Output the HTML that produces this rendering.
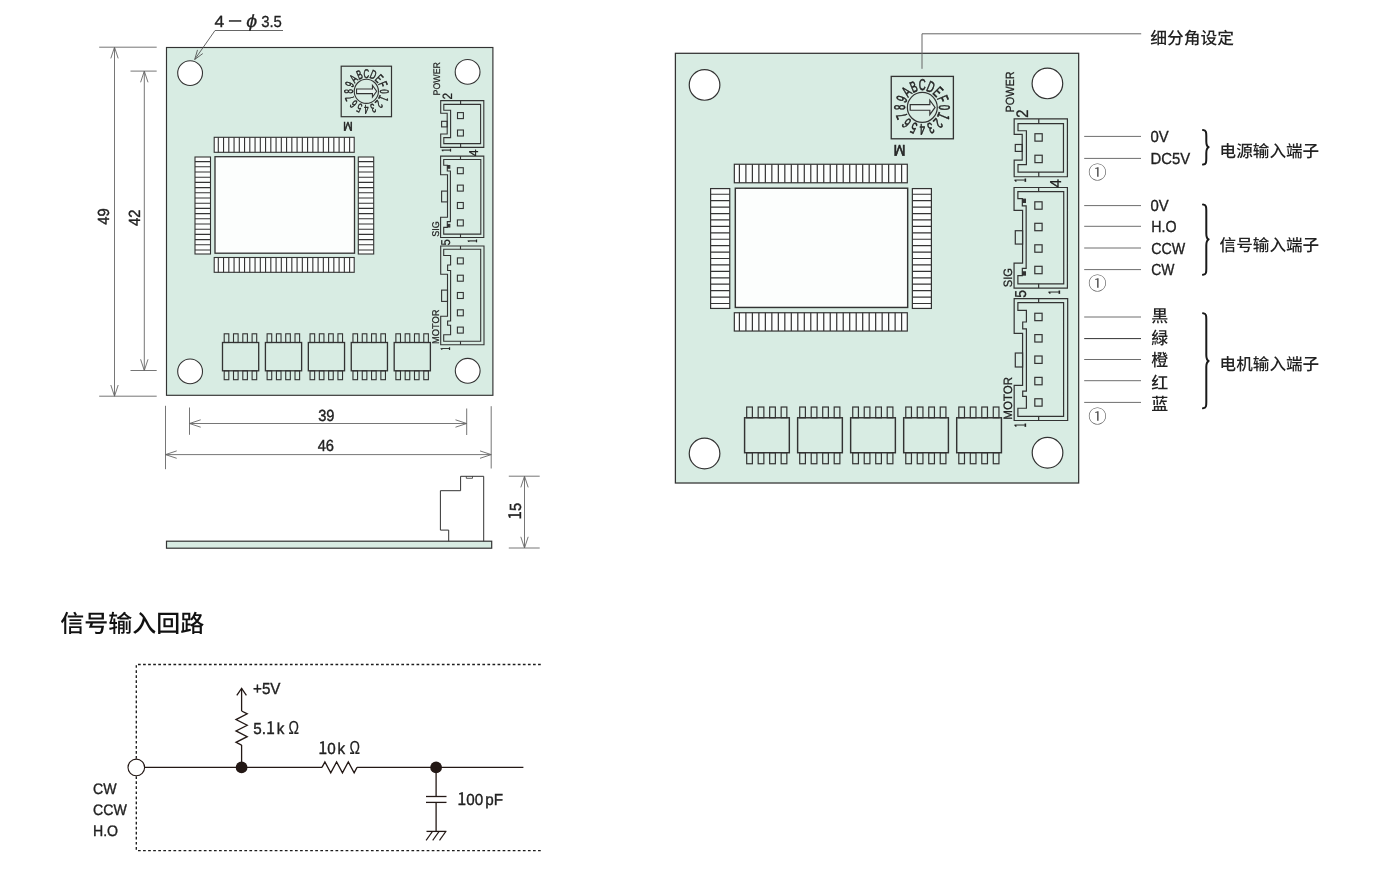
<!DOCTYPE html>
<html lang="zh-CN">
<head>
<meta charset="utf-8">
<title>外形图 / 信号输入回路</title>
<style>
html,body{margin:0;padding:0;background:#fff;}
body{width:1386px;height:871px;overflow:hidden;}
svg{display:block;will-change:transform;}
svg text{font-family:'Liberation Sans', 'Noto Sans CJK SC', sans-serif;text-rendering:geometricPrecision;}
</style>
</head>
<body>
<svg width="1386" height="871" viewBox="0 0 1386 871">
<rect x="0" y="0" width="1386" height="871" fill="#fff"/>
<rect x="166.5" y="47.5" width="326.4" height="347.8" fill="#d8ece3" stroke="#333" stroke-width="1.16"/>
<circle cx="190.1" cy="73.1" r="12.4" fill="#fff" stroke="#333" stroke-width="1.1"/>
<circle cx="467.6" cy="71.9" r="12.4" fill="#fff" stroke="#333" stroke-width="1.1"/>
<circle cx="190.1" cy="371.4" r="12.4" fill="#fff" stroke="#333" stroke-width="1.1"/>
<circle cx="467.7" cy="370.8" r="12.4" fill="#fff" stroke="#333" stroke-width="1.1"/>
<rect x="341.2" y="66.2" width="50.3" height="50.5" fill="none" stroke="#333" stroke-width="1.21"/>
<circle cx="366.35" cy="91.3" r="12.1" fill="none" stroke="#333" stroke-width="1.1"/>
<text transform="translate(380.05,91.3) rotate(90) scale(0.62,1)" font-size="12.6" text-anchor="middle" font-weight="normal" fill="#222" stroke="#222" stroke-width="0.45">0</text>
<text transform="translate(379.01,96.54) rotate(112.5) scale(0.7,1)" font-size="13.2" text-anchor="middle" font-weight="normal" fill="#222" stroke="#222" stroke-width="0.4" style="font-family:'Noto Sans CJK SC','Liberation Sans',sans-serif">1</text>
<text transform="translate(376.04,100.99) rotate(135) scale(0.62,1)" font-size="12.6" text-anchor="middle" font-weight="normal" fill="#222" stroke="#222" stroke-width="0.45">2</text>
<text transform="translate(371.59,103.96) rotate(157.5) scale(0.62,1)" font-size="12.6" text-anchor="middle" font-weight="normal" fill="#222" stroke="#222" stroke-width="0.45">3</text>
<text transform="translate(366.35,105) rotate(180) scale(0.62,1)" font-size="12.6" text-anchor="middle" font-weight="normal" fill="#222" stroke="#222" stroke-width="0.45">4</text>
<text transform="translate(361.11,103.96) rotate(202.5) scale(0.62,1)" font-size="12.6" text-anchor="middle" font-weight="normal" fill="#222" stroke="#222" stroke-width="0.45">5</text>
<text transform="translate(356.66,100.99) rotate(225) scale(0.62,1)" font-size="12.6" text-anchor="middle" font-weight="normal" fill="#222" stroke="#222" stroke-width="0.45">6</text>
<text transform="translate(353.69,96.54) rotate(247.5) scale(0.62,1)" font-size="12.6" text-anchor="middle" font-weight="normal" fill="#222" stroke="#222" stroke-width="0.45">7</text>
<text transform="translate(352.65,91.3) rotate(270) scale(0.62,1)" font-size="12.6" text-anchor="middle" font-weight="normal" fill="#222" stroke="#222" stroke-width="0.45">8</text>
<text transform="translate(353.69,86.06) rotate(292.5) scale(0.62,1)" font-size="12.6" text-anchor="middle" font-weight="normal" fill="#222" stroke="#222" stroke-width="0.45">9</text>
<text transform="translate(356.66,81.61) rotate(315) scale(0.62,1)" font-size="12.6" text-anchor="middle" font-weight="normal" fill="#222" stroke="#222" stroke-width="0.45">A</text>
<text transform="translate(361.11,78.64) rotate(337.5) scale(0.62,1)" font-size="12.6" text-anchor="middle" font-weight="normal" fill="#222" stroke="#222" stroke-width="0.45">B</text>
<text transform="translate(366.35,77.6) rotate(360) scale(0.62,1)" font-size="12.6" text-anchor="middle" font-weight="normal" fill="#222" stroke="#222" stroke-width="0.45">C</text>
<text transform="translate(371.59,78.64) rotate(382.5) scale(0.62,1)" font-size="12.6" text-anchor="middle" font-weight="normal" fill="#222" stroke="#222" stroke-width="0.45">D</text>
<text transform="translate(376.04,81.61) rotate(405) scale(0.62,1)" font-size="12.6" text-anchor="middle" font-weight="normal" fill="#222" stroke="#222" stroke-width="0.45">E</text>
<text transform="translate(379.01,86.06) rotate(427.5) scale(0.62,1)" font-size="12.6" text-anchor="middle" font-weight="normal" fill="#222" stroke="#222" stroke-width="0.45">F</text>
<path d="M356.55,89 L372.45,89 L372.45,85.5 L376.65,91.3 L372.45,97.1 L372.45,93.6 L356.55,93.6 Z" fill="#e6f3ee" stroke="#333" stroke-width="1.1"/>
<text transform="translate(347.9,121.9) rotate(180) scale(0.92,1)" font-size="12.6" text-anchor="middle" font-weight="normal" fill="#222" stroke="#222" stroke-width="0.5">M</text>
<rect x="215" y="156.7" width="139.5" height="96.5" fill="#fcfefd" stroke="#333" stroke-width="1.32"/>
<rect x="214.2" y="137.3" width="140" height="15" fill="#fcfefd" stroke="#333" stroke-width="1.1"/>
<path d="M218.3,137.3V152.3M223.55,137.3V152.3M228.8,137.3V152.3M234.06,137.3V152.3M239.31,137.3V152.3M244.56,137.3V152.3M249.81,137.3V152.3M255.06,137.3V152.3M260.32,137.3V152.3M265.57,137.3V152.3M270.82,137.3V152.3M276.07,137.3V152.3M281.32,137.3V152.3M286.58,137.3V152.3M291.83,137.3V152.3M297.08,137.3V152.3M302.33,137.3V152.3M307.58,137.3V152.3M312.84,137.3V152.3M318.09,137.3V152.3M323.34,137.3V152.3M328.59,137.3V152.3M333.84,137.3V152.3M339.1,137.3V152.3M344.35,137.3V152.3M349.6,137.3V152.3" fill="none" stroke="#333" stroke-width="1.1"/>
<rect x="214.2" y="257.5" width="140" height="14.8" fill="#fcfefd" stroke="#333" stroke-width="1.1"/>
<path d="M218.3,257.5V272.3M223.55,257.5V272.3M228.8,257.5V272.3M234.06,257.5V272.3M239.31,257.5V272.3M244.56,257.5V272.3M249.81,257.5V272.3M255.06,257.5V272.3M260.32,257.5V272.3M265.57,257.5V272.3M270.82,257.5V272.3M276.07,257.5V272.3M281.32,257.5V272.3M286.58,257.5V272.3M291.83,257.5V272.3M297.08,257.5V272.3M302.33,257.5V272.3M307.58,257.5V272.3M312.84,257.5V272.3M318.09,257.5V272.3M323.34,257.5V272.3M328.59,257.5V272.3M333.84,257.5V272.3M339.1,257.5V272.3M344.35,257.5V272.3M349.6,257.5V272.3" fill="none" stroke="#333" stroke-width="1.1"/>
<rect x="195" y="157" width="15.5" height="97" fill="#fcfefd" stroke="#333" stroke-width="1.1"/>
<path d="M195,161.6H210.5M195,166.8H210.5M195,172H210.5M195,177.2H210.5M195,182.4H210.5M195,187.6H210.5M195,192.8H210.5M195,198H210.5M195,203.2H210.5M195,208.4H210.5M195,213.6H210.5M195,218.8H210.5M195,224H210.5M195,229.2H210.5M195,234.4H210.5M195,239.6H210.5M195,244.8H210.5M195,250H210.5" fill="none" stroke="#333" stroke-width="1.1"/>
<rect x="358.3" y="157" width="15.4" height="97" fill="#fcfefd" stroke="#333" stroke-width="1.1"/>
<path d="M358.3,161.6H373.7M358.3,166.8H373.7M358.3,172H373.7M358.3,177.2H373.7M358.3,182.4H373.7M358.3,187.6H373.7M358.3,192.8H373.7M358.3,198H373.7M358.3,203.2H373.7M358.3,208.4H373.7M358.3,213.6H373.7M358.3,218.8H373.7M358.3,224H373.7M358.3,229.2H373.7M358.3,234.4H373.7M358.3,239.6H373.7M358.3,244.8H373.7M358.3,250H373.7" fill="none" stroke="#333" stroke-width="1.1"/>
<rect x="224.2" y="333.8" width="4.6" height="8.7" fill="none" stroke="#333" stroke-width="1.1"/>
<rect x="224.2" y="370.8" width="4.6" height="8.9" fill="none" stroke="#333" stroke-width="1.1"/>
<rect x="233.5" y="333.8" width="4.6" height="8.7" fill="none" stroke="#333" stroke-width="1.1"/>
<rect x="233.5" y="370.8" width="4.6" height="8.9" fill="none" stroke="#333" stroke-width="1.1"/>
<rect x="242.8" y="333.8" width="4.6" height="8.7" fill="none" stroke="#333" stroke-width="1.1"/>
<rect x="242.8" y="370.8" width="4.6" height="8.9" fill="none" stroke="#333" stroke-width="1.1"/>
<rect x="252.1" y="333.8" width="4.6" height="8.7" fill="none" stroke="#333" stroke-width="1.1"/>
<rect x="252.1" y="370.8" width="4.6" height="8.9" fill="none" stroke="#333" stroke-width="1.1"/>
<rect x="222.5" y="342.5" width="36.2" height="28.3" fill="none" stroke="#333" stroke-width="1.32"/>
<rect x="267.12" y="333.8" width="4.6" height="8.7" fill="none" stroke="#333" stroke-width="1.1"/>
<rect x="267.12" y="370.8" width="4.6" height="8.9" fill="none" stroke="#333" stroke-width="1.1"/>
<rect x="276.42" y="333.8" width="4.6" height="8.7" fill="none" stroke="#333" stroke-width="1.1"/>
<rect x="276.42" y="370.8" width="4.6" height="8.9" fill="none" stroke="#333" stroke-width="1.1"/>
<rect x="285.72" y="333.8" width="4.6" height="8.7" fill="none" stroke="#333" stroke-width="1.1"/>
<rect x="285.72" y="370.8" width="4.6" height="8.9" fill="none" stroke="#333" stroke-width="1.1"/>
<rect x="295.02" y="333.8" width="4.6" height="8.7" fill="none" stroke="#333" stroke-width="1.1"/>
<rect x="295.02" y="370.8" width="4.6" height="8.9" fill="none" stroke="#333" stroke-width="1.1"/>
<rect x="265.42" y="342.5" width="36.2" height="28.3" fill="none" stroke="#333" stroke-width="1.32"/>
<rect x="310.04" y="333.8" width="4.6" height="8.7" fill="none" stroke="#333" stroke-width="1.1"/>
<rect x="310.04" y="370.8" width="4.6" height="8.9" fill="none" stroke="#333" stroke-width="1.1"/>
<rect x="319.34" y="333.8" width="4.6" height="8.7" fill="none" stroke="#333" stroke-width="1.1"/>
<rect x="319.34" y="370.8" width="4.6" height="8.9" fill="none" stroke="#333" stroke-width="1.1"/>
<rect x="328.64" y="333.8" width="4.6" height="8.7" fill="none" stroke="#333" stroke-width="1.1"/>
<rect x="328.64" y="370.8" width="4.6" height="8.9" fill="none" stroke="#333" stroke-width="1.1"/>
<rect x="337.94" y="333.8" width="4.6" height="8.7" fill="none" stroke="#333" stroke-width="1.1"/>
<rect x="337.94" y="370.8" width="4.6" height="8.9" fill="none" stroke="#333" stroke-width="1.1"/>
<rect x="308.34" y="342.5" width="36.2" height="28.3" fill="none" stroke="#333" stroke-width="1.32"/>
<rect x="352.96" y="333.8" width="4.6" height="8.7" fill="none" stroke="#333" stroke-width="1.1"/>
<rect x="352.96" y="370.8" width="4.6" height="8.9" fill="none" stroke="#333" stroke-width="1.1"/>
<rect x="362.26" y="333.8" width="4.6" height="8.7" fill="none" stroke="#333" stroke-width="1.1"/>
<rect x="362.26" y="370.8" width="4.6" height="8.9" fill="none" stroke="#333" stroke-width="1.1"/>
<rect x="371.56" y="333.8" width="4.6" height="8.7" fill="none" stroke="#333" stroke-width="1.1"/>
<rect x="371.56" y="370.8" width="4.6" height="8.9" fill="none" stroke="#333" stroke-width="1.1"/>
<rect x="380.86" y="333.8" width="4.6" height="8.7" fill="none" stroke="#333" stroke-width="1.1"/>
<rect x="380.86" y="370.8" width="4.6" height="8.9" fill="none" stroke="#333" stroke-width="1.1"/>
<rect x="351.26" y="342.5" width="36.2" height="28.3" fill="none" stroke="#333" stroke-width="1.32"/>
<rect x="395.88" y="333.8" width="4.6" height="8.7" fill="none" stroke="#333" stroke-width="1.1"/>
<rect x="395.88" y="370.8" width="4.6" height="8.9" fill="none" stroke="#333" stroke-width="1.1"/>
<rect x="405.18" y="333.8" width="4.6" height="8.7" fill="none" stroke="#333" stroke-width="1.1"/>
<rect x="405.18" y="370.8" width="4.6" height="8.9" fill="none" stroke="#333" stroke-width="1.1"/>
<rect x="414.48" y="333.8" width="4.6" height="8.7" fill="none" stroke="#333" stroke-width="1.1"/>
<rect x="414.48" y="370.8" width="4.6" height="8.9" fill="none" stroke="#333" stroke-width="1.1"/>
<rect x="423.78" y="333.8" width="4.6" height="8.7" fill="none" stroke="#333" stroke-width="1.1"/>
<rect x="423.78" y="370.8" width="4.6" height="8.9" fill="none" stroke="#333" stroke-width="1.1"/>
<rect x="394.18" y="342.5" width="36.2" height="28.3" fill="none" stroke="#333" stroke-width="1.32"/>
<path d="M440.7,100.6 L483.8,100.6 L483.8,147.4 L440.7,147.4 L440.7,134 L447.2,134 L447.2,113.2 L440.7,113.2 Z" fill="none" stroke="#333" stroke-width="1.1"/>
<path d="M443.8,104.4 L480.6,104.4 L480.6,143.6 L443.8,143.6 L443.8,137.6 L450.6,137.6 L450.6,110.2 L443.8,110.2 Z" fill="none" stroke="#333" stroke-width="1.1"/>
<rect x="441.6" y="121.3" width="5.6" height="5.6" fill="none" stroke="#333" stroke-width="1.1"/>
<line x1="460.6" y1="100.6" x2="460.6" y2="104.4" stroke="#333" stroke-width="1.1"/>
<line x1="460.6" y1="143.6" x2="460.6" y2="147.4" stroke="#333" stroke-width="1.1"/>
<rect x="457.5" y="112.6" width="5.9" height="6" fill="none" stroke="#333" stroke-width="1.1"/>
<rect x="457.5" y="130" width="5.9" height="6" fill="none" stroke="#333" stroke-width="1.1"/>
<path d="M440.6,156.1 L483.8,156.1 L483.8,237.5 L440.6,237.5 L440.6,217.3 L447.5,217.3 L447.5,174.7 L440.6,174.7 Z" fill="none" stroke="#333" stroke-width="1.1"/>
<path d="M443.7,159.5 L480.8,159.5 L480.8,234.1 L443.7,234.1 L443.7,227.4 L447.3,227.4 L447.3,221.6 L450.4,221.6 L450.4,171 L447.3,171 L447.3,165.2 L443.7,165.2 Z" fill="none" stroke="#333" stroke-width="1.1"/>
<rect x="447.6" y="165.6" width="2.2" height="2.6" fill="#333" stroke="#333" stroke-width="1.1"/>
<rect x="447.6" y="224.4" width="2.2" height="2.6" fill="#333" stroke="#333" stroke-width="1.1"/>
<rect x="441.6" y="191.1" width="5.9" height="10.8" fill="none" stroke="#333" stroke-width="1.1"/>
<line x1="460.5" y1="156.1" x2="460.5" y2="159.5" stroke="#333" stroke-width="1.1"/>
<line x1="460.5" y1="234.1" x2="460.5" y2="237.5" stroke="#333" stroke-width="1.1"/>
<rect x="457.4" y="167.7" width="5.9" height="6" fill="none" stroke="#333" stroke-width="1.1"/>
<rect x="457.4" y="185.1" width="5.9" height="6" fill="none" stroke="#333" stroke-width="1.1"/>
<rect x="457.4" y="202.5" width="5.9" height="6" fill="none" stroke="#333" stroke-width="1.1"/>
<rect x="457.4" y="219.9" width="5.9" height="6" fill="none" stroke="#333" stroke-width="1.1"/>
<path d="M440.7,246 L484,246 L484,344.7 L440.7,344.7 L440.7,316.2 L447.5,316.2 L447.5,274.2 L440.7,274.2 Z" fill="none" stroke="#333" stroke-width="1.1"/>
<path d="M443.7,249.3 L480.7,249.3 L480.7,341.3 L443.7,341.3 L443.7,334.8 L450.6,334.8 L450.6,325.2 L447.6,325.2 L447.6,321 L450.6,321 L450.6,270.5 L447.6,270.5 L447.6,265 L450.6,265 L450.6,255.5 L443.7,255.5 Z" fill="none" stroke="#333" stroke-width="1.1"/>
<rect x="441.6" y="290.1" width="5.9" height="11.3" fill="none" stroke="#333" stroke-width="1.1"/>
<line x1="460.5" y1="246" x2="460.5" y2="249.3" stroke="#333" stroke-width="1.1"/>
<line x1="460.5" y1="341.3" x2="460.5" y2="344.7" stroke="#333" stroke-width="1.1"/>
<rect x="457.4" y="257.9" width="5.9" height="6" fill="none" stroke="#333" stroke-width="1.1"/>
<rect x="457.4" y="275.2" width="5.9" height="6" fill="none" stroke="#333" stroke-width="1.1"/>
<rect x="457.4" y="292.5" width="5.9" height="6" fill="none" stroke="#333" stroke-width="1.1"/>
<rect x="457.4" y="309.8" width="5.9" height="6" fill="none" stroke="#333" stroke-width="1.1"/>
<rect x="457.4" y="327.1" width="5.9" height="6" fill="none" stroke="#333" stroke-width="1.1"/>
<text transform="translate(440.2,95.4) rotate(-90) scale(0.92,1)" font-size="9.6" text-anchor="start" font-weight="normal" fill="#222" stroke="#222" stroke-width="0.22">POWER</text>
<text transform="translate(439.2,236.8) rotate(-90) scale(0.92,1)" font-size="9.8" text-anchor="start" font-weight="normal" fill="#222" stroke="#222" stroke-width="0.22">SIG</text>
<text transform="translate(439.3,344) rotate(-90) scale(0.95,1)" font-size="9.8" text-anchor="start" font-weight="normal" fill="#222" stroke="#222" stroke-width="0.22">MOTOR</text>
<text transform="translate(451.6,99.6) rotate(-90) scale(0.88,1)" font-size="13.5" text-anchor="start" font-weight="normal" fill="#222" stroke="#222" stroke-width="0.25">2</text>
<text transform="translate(450.6,152) rotate(-90) scale(0.5,1)" font-size="12.6" text-anchor="start" font-weight="normal" fill="#222" stroke="#222" stroke-width="0.25" style="font-family:'Noto Sans CJK SC','Liberation Sans',sans-serif">1</text>
<text transform="translate(478.2,156.2) rotate(-90) scale(0.95,1)" font-size="12.8" text-anchor="start" font-weight="normal" fill="#222" stroke="#222" stroke-width="0.25">4</text>
<text transform="translate(450.3,245.4) rotate(-90) scale(0.88,1)" font-size="12.8" text-anchor="start" font-weight="normal" fill="#222" stroke="#222" stroke-width="0.25">5</text>
<text transform="translate(477.4,242.8) rotate(-90) scale(0.5,1)" font-size="12.6" text-anchor="start" font-weight="normal" fill="#222" stroke="#222" stroke-width="0.25" style="font-family:'Noto Sans CJK SC','Liberation Sans',sans-serif">1</text>
<text transform="translate(450,350.4) rotate(-90) scale(0.5,1)" font-size="12.6" text-anchor="start" font-weight="normal" fill="#222" stroke="#222" stroke-width="0.25" style="font-family:'Noto Sans CJK SC','Liberation Sans',sans-serif">1</text>
<line x1="99.2" y1="47.2" x2="156.7" y2="47.2" stroke="#666" stroke-width="0.9" />
<line x1="99.2" y1="396.2" x2="156.7" y2="396.2" stroke="#666" stroke-width="0.9" />
<line x1="114.5" y1="47.2" x2="114.5" y2="396.2" stroke="#666" stroke-width="0.9" />
<path d="M118.2,58.4 L114.5,47.2 L110.8,58.4" fill="none" stroke="#666" stroke-width="0.9" />
<path d="M110.8,385 L114.5,396.2 L118.2,385" fill="none" stroke="#666" stroke-width="0.9" />
<line x1="130.5" y1="71.1" x2="156.7" y2="71.1" stroke="#666" stroke-width="0.9" />
<line x1="130.5" y1="370.5" x2="156.7" y2="370.5" stroke="#666" stroke-width="0.9" />
<line x1="144.3" y1="71.1" x2="144.3" y2="370.5" stroke="#666" stroke-width="0.9" />
<path d="M148,82.3 L144.3,71.1 L140.6,82.3" fill="none" stroke="#666" stroke-width="0.9" />
<path d="M140.6,359.3 L144.3,370.5 L148,359.3" fill="none" stroke="#666" stroke-width="0.9" />
<text transform="translate(108.6,216.6) rotate(-90) scale(0.91,1)" font-size="16.1" text-anchor="middle" fill="#222" font-weight="normal" stroke="#222" stroke-width="0.4">49</text>
<text transform="translate(139.6,217.8) rotate(-90) scale(0.91,1)" font-size="16.1" text-anchor="middle" fill="#222" font-weight="normal" stroke="#222" stroke-width="0.4">42</text>
<line x1="189.5" y1="407.5" x2="189.5" y2="434.8" stroke="#666" stroke-width="0.9" />
<line x1="466.7" y1="408.5" x2="466.7" y2="435" stroke="#666" stroke-width="0.9" />
<line x1="189.5" y1="423.5" x2="466.7" y2="423.5" stroke="#666" stroke-width="0.9" />
<path d="M200.7,419.8 L189.5,423.5 L200.7,427.2" fill="none" stroke="#666" stroke-width="0.9" />
<path d="M455.5,427.2 L466.7,423.5 L455.5,419.8" fill="none" stroke="#666" stroke-width="0.9" />
<line x1="165.5" y1="405.8" x2="165.5" y2="469.2" stroke="#666" stroke-width="0.9" />
<line x1="491.2" y1="406.2" x2="491.2" y2="468.5" stroke="#666" stroke-width="0.9" />
<line x1="165.5" y1="454.6" x2="491.2" y2="454.6" stroke="#666" stroke-width="0.9" />
<path d="M176.7,450.9 L165.5,454.6 L176.7,458.3" fill="none" stroke="#666" stroke-width="0.9" />
<path d="M480,458.3 L491.2,454.6 L480,450.9" fill="none" stroke="#666" stroke-width="0.9" />
<text transform="translate(326.3,421) scale(0.91,1)" font-size="16.1" text-anchor="middle" fill="#222" font-weight="normal" stroke="#222" stroke-width="0.4">39</text>
<text transform="translate(325.8,450.8) scale(0.91,1)" font-size="16.1" text-anchor="middle" fill="#222" font-weight="normal" stroke="#222" stroke-width="0.4">46</text>
<line x1="215" y1="30.5" x2="283" y2="30.5" stroke="#555" stroke-width="0.9" />
<line x1="215" y1="30.5" x2="194.7" y2="59.5" stroke="#555" stroke-width="0.9" />
<path d="M197.53,49.88 L194.7,59.5 L202.77,53.55" fill="none" stroke="#555" stroke-width="0.9" />
<text transform="translate(214.4,26.8) scale(1.08,1)" font-size="16.2" text-anchor="start" fill="#222" font-weight="normal" stroke="#222" stroke-width="0.3">4</text>
<text transform="translate(227,25.6) scale(1.2,1)" font-size="13.5" text-anchor="start" fill="#222" font-weight="normal" stroke="#222" stroke-width="0.5">－</text>
<text transform="translate(246.2,26.6) scale(1.12,1)" font-size="17.5" text-anchor="start" fill="#222" font-weight="normal" font-style="italic" stroke="#222" stroke-width="0.25">ϕ</text>
<text transform="translate(261.2,26.8) scale(0.93,1)" font-size="16" text-anchor="start" fill="#222" font-weight="normal" stroke="#222" stroke-width="0.3">3.5</text>
<rect x="166.5" y="541.2" width="325.2" height="7.0" fill="#d8ece3" stroke="#333" stroke-width="1.2"/>
<path d="M448.7,541.2 V530.1 H440.4 V490.7 H460.6 V476.3 H483.7 V541.2" fill="none" stroke="#333" stroke-width="1" />
<path d="M466.3,476.3 V478.3 H472.5 V476.3" fill="none" stroke="#333" stroke-width="0.8" />
<line x1="508.8" y1="476.2" x2="539.7" y2="476.2" stroke="#666" stroke-width="0.9" />
<line x1="508.8" y1="548" x2="539.7" y2="548" stroke="#666" stroke-width="0.9" />
<line x1="524.5" y1="476.2" x2="524.5" y2="548" stroke="#666" stroke-width="0.9" />
<path d="M528.2,487.4 L524.5,476.2 L520.8,487.4" fill="none" stroke="#666" stroke-width="0.9" />
<path d="M520.8,536.8 L524.5,548 L528.2,536.8" fill="none" stroke="#666" stroke-width="0.9" />
<text transform="translate(520.6,511.3) rotate(-90) scale(0.91,1)" font-size="16.1" text-anchor="middle" fill="#222" font-weight="normal" stroke="#222" stroke-width="0.4"><tspan style="font-family:'Noto Sans CJK SC','Liberation Sans',sans-serif;font-size:1.07em">1</tspan>5</text>
<rect x="675.4" y="53.3" width="403.27" height="429.71" fill="#d8ece3" stroke="#333" stroke-width="1.26"/>
<circle cx="704.56" cy="84.93" r="15.32" fill="#fff" stroke="#333" stroke-width="1.2"/>
<circle cx="1047.41" cy="83.45" r="15.32" fill="#fff" stroke="#333" stroke-width="1.2"/>
<circle cx="704.56" cy="453.48" r="15.32" fill="#fff" stroke="#333" stroke-width="1.2"/>
<circle cx="1047.53" cy="452.74" r="15.32" fill="#fff" stroke="#333" stroke-width="1.2"/>
<rect x="891.24" y="76.4" width="62.15" height="62.39" fill="none" stroke="#333" stroke-width="1.32"/>
<circle cx="922.31" cy="107.41" r="14.95" fill="none" stroke="#333" stroke-width="1.2"/>
<text transform="translate(939.24,107.41) rotate(90) scale(0.62,1)" font-size="15.57" text-anchor="middle" font-weight="normal" fill="#222" stroke="#222" stroke-width="0.56">0</text>
<text transform="translate(937.95,113.89) rotate(112.5) scale(0.7,1)" font-size="16.31" text-anchor="middle" font-weight="normal" fill="#222" stroke="#222" stroke-width="0.49" style="font-family:'Noto Sans CJK SC','Liberation Sans',sans-serif">1</text>
<text transform="translate(934.28,119.38) rotate(135) scale(0.62,1)" font-size="15.57" text-anchor="middle" font-weight="normal" fill="#222" stroke="#222" stroke-width="0.56">2</text>
<text transform="translate(928.79,123.05) rotate(157.5) scale(0.62,1)" font-size="15.57" text-anchor="middle" font-weight="normal" fill="#222" stroke="#222" stroke-width="0.56">3</text>
<text transform="translate(922.31,124.34) rotate(180) scale(0.62,1)" font-size="15.57" text-anchor="middle" font-weight="normal" fill="#222" stroke="#222" stroke-width="0.56">4</text>
<text transform="translate(915.84,123.05) rotate(202.5) scale(0.62,1)" font-size="15.57" text-anchor="middle" font-weight="normal" fill="#222" stroke="#222" stroke-width="0.56">5</text>
<text transform="translate(910.35,119.38) rotate(225) scale(0.62,1)" font-size="15.57" text-anchor="middle" font-weight="normal" fill="#222" stroke="#222" stroke-width="0.56">6</text>
<text transform="translate(906.68,113.89) rotate(247.5) scale(0.62,1)" font-size="15.57" text-anchor="middle" font-weight="normal" fill="#222" stroke="#222" stroke-width="0.56">7</text>
<text transform="translate(905.39,107.41) rotate(270) scale(0.62,1)" font-size="15.57" text-anchor="middle" font-weight="normal" fill="#222" stroke="#222" stroke-width="0.56">8</text>
<text transform="translate(906.68,100.94) rotate(292.5) scale(0.62,1)" font-size="15.57" text-anchor="middle" font-weight="normal" fill="#222" stroke="#222" stroke-width="0.56">9</text>
<text transform="translate(910.35,95.45) rotate(315) scale(0.62,1)" font-size="15.57" text-anchor="middle" font-weight="normal" fill="#222" stroke="#222" stroke-width="0.56">A</text>
<text transform="translate(915.84,91.78) rotate(337.5) scale(0.62,1)" font-size="15.57" text-anchor="middle" font-weight="normal" fill="#222" stroke="#222" stroke-width="0.56">B</text>
<text transform="translate(922.31,90.49) rotate(360) scale(0.62,1)" font-size="15.57" text-anchor="middle" font-weight="normal" fill="#222" stroke="#222" stroke-width="0.56">C</text>
<text transform="translate(928.79,91.78) rotate(382.5) scale(0.62,1)" font-size="15.57" text-anchor="middle" font-weight="normal" fill="#222" stroke="#222" stroke-width="0.56">D</text>
<text transform="translate(934.28,95.45) rotate(405) scale(0.62,1)" font-size="15.57" text-anchor="middle" font-weight="normal" fill="#222" stroke="#222" stroke-width="0.56">E</text>
<text transform="translate(937.95,100.94) rotate(427.5) scale(0.62,1)" font-size="15.57" text-anchor="middle" font-weight="normal" fill="#222" stroke="#222" stroke-width="0.56">F</text>
<path d="M910.21,104.57 L929.85,104.57 L929.85,100.25 L935.04,107.41 L929.85,114.58 L929.85,110.26 L910.21,110.26 Z" fill="#e6f3ee" stroke="#333" stroke-width="1.2"/>
<text transform="translate(899.52,145.22) rotate(180) scale(0.92,1)" font-size="15.57" text-anchor="middle" font-weight="normal" fill="#222" stroke="#222" stroke-width="0.62">M</text>
<rect x="735.32" y="188.22" width="172.35" height="119.23" fill="#fcfefd" stroke="#333" stroke-width="1.44"/>
<rect x="734.33" y="164.25" width="172.97" height="18.53" fill="#fcfefd" stroke="#333" stroke-width="1.2"/>
<path d="M739.4,164.25V182.78M745.89,164.25V182.78M752.38,164.25V182.78M758.87,164.25V182.78M765.35,164.25V182.78M771.84,164.25V182.78M778.33,164.25V182.78M784.82,164.25V182.78M791.31,164.25V182.78M797.8,164.25V182.78M804.29,164.25V182.78M810.78,164.25V182.78M817.27,164.25V182.78M823.75,164.25V182.78M830.24,164.25V182.78M836.73,164.25V182.78M843.22,164.25V182.78M849.71,164.25V182.78M856.2,164.25V182.78M862.69,164.25V182.78M869.18,164.25V182.78M875.66,164.25V182.78M882.15,164.25V182.78M888.64,164.25V182.78M895.13,164.25V182.78M901.62,164.25V182.78" fill="none" stroke="#333" stroke-width="1.2"/>
<rect x="734.33" y="312.75" width="172.97" height="18.29" fill="#fcfefd" stroke="#333" stroke-width="1.2"/>
<path d="M739.4,312.75V331.04M745.89,312.75V331.04M752.38,312.75V331.04M758.87,312.75V331.04M765.35,312.75V331.04M771.84,312.75V331.04M778.33,312.75V331.04M784.82,312.75V331.04M791.31,312.75V331.04M797.8,312.75V331.04M804.29,312.75V331.04M810.78,312.75V331.04M817.27,312.75V331.04M823.75,312.75V331.04M830.24,312.75V331.04M836.73,312.75V331.04M843.22,312.75V331.04M849.71,312.75V331.04M856.2,312.75V331.04M862.69,312.75V331.04M869.18,312.75V331.04M875.66,312.75V331.04M882.15,312.75V331.04M888.64,312.75V331.04M895.13,312.75V331.04M901.62,312.75V331.04" fill="none" stroke="#333" stroke-width="1.2"/>
<rect x="710.61" y="188.59" width="19.15" height="119.84" fill="#fcfefd" stroke="#333" stroke-width="1.2"/>
<path d="M710.61,194.27H729.76M710.61,200.7H729.76M710.61,207.12H729.76M710.61,213.54H729.76M710.61,219.97H729.76M710.61,226.39H729.76M710.61,232.82H729.76M710.61,239.24H729.76M710.61,245.67H729.76M710.61,252.09H729.76M710.61,258.52H729.76M710.61,264.94H729.76M710.61,271.37H729.76M710.61,277.79H729.76M710.61,284.21H729.76M710.61,290.64H729.76M710.61,297.06H729.76M710.61,303.49H729.76" fill="none" stroke="#333" stroke-width="1.2"/>
<rect x="912.37" y="188.59" width="19.03" height="119.84" fill="#fcfefd" stroke="#333" stroke-width="1.2"/>
<path d="M912.37,194.27H931.4M912.37,200.7H931.4M912.37,207.12H931.4M912.37,213.54H931.4M912.37,219.97H931.4M912.37,226.39H931.4M912.37,232.82H931.4M912.37,239.24H931.4M912.37,245.67H931.4M912.37,252.09H931.4M912.37,258.52H931.4M912.37,264.94H931.4M912.37,271.37H931.4M912.37,277.79H931.4M912.37,284.21H931.4M912.37,290.64H931.4M912.37,297.06H931.4M912.37,303.49H931.4" fill="none" stroke="#333" stroke-width="1.2"/>
<rect x="746.69" y="407.02" width="5.68" height="10.75" fill="none" stroke="#333" stroke-width="1.2"/>
<rect x="746.69" y="452.74" width="5.68" height="11" fill="none" stroke="#333" stroke-width="1.2"/>
<rect x="758.18" y="407.02" width="5.68" height="10.75" fill="none" stroke="#333" stroke-width="1.2"/>
<rect x="758.18" y="452.74" width="5.68" height="11" fill="none" stroke="#333" stroke-width="1.2"/>
<rect x="769.67" y="407.02" width="5.68" height="10.75" fill="none" stroke="#333" stroke-width="1.2"/>
<rect x="769.67" y="452.74" width="5.68" height="11" fill="none" stroke="#333" stroke-width="1.2"/>
<rect x="781.16" y="407.02" width="5.68" height="10.75" fill="none" stroke="#333" stroke-width="1.2"/>
<rect x="781.16" y="452.74" width="5.68" height="11" fill="none" stroke="#333" stroke-width="1.2"/>
<rect x="744.59" y="417.77" width="44.73" height="34.96" fill="none" stroke="#333" stroke-width="1.44"/>
<rect x="799.72" y="407.02" width="5.68" height="10.75" fill="none" stroke="#333" stroke-width="1.2"/>
<rect x="799.72" y="452.74" width="5.68" height="11" fill="none" stroke="#333" stroke-width="1.2"/>
<rect x="811.21" y="407.02" width="5.68" height="10.75" fill="none" stroke="#333" stroke-width="1.2"/>
<rect x="811.21" y="452.74" width="5.68" height="11" fill="none" stroke="#333" stroke-width="1.2"/>
<rect x="822.7" y="407.02" width="5.68" height="10.75" fill="none" stroke="#333" stroke-width="1.2"/>
<rect x="822.7" y="452.74" width="5.68" height="11" fill="none" stroke="#333" stroke-width="1.2"/>
<rect x="834.19" y="407.02" width="5.68" height="10.75" fill="none" stroke="#333" stroke-width="1.2"/>
<rect x="834.19" y="452.74" width="5.68" height="11" fill="none" stroke="#333" stroke-width="1.2"/>
<rect x="797.62" y="417.77" width="44.73" height="34.96" fill="none" stroke="#333" stroke-width="1.44"/>
<rect x="852.74" y="407.02" width="5.68" height="10.75" fill="none" stroke="#333" stroke-width="1.2"/>
<rect x="852.74" y="452.74" width="5.68" height="11" fill="none" stroke="#333" stroke-width="1.2"/>
<rect x="864.23" y="407.02" width="5.68" height="10.75" fill="none" stroke="#333" stroke-width="1.2"/>
<rect x="864.23" y="452.74" width="5.68" height="11" fill="none" stroke="#333" stroke-width="1.2"/>
<rect x="875.72" y="407.02" width="5.68" height="10.75" fill="none" stroke="#333" stroke-width="1.2"/>
<rect x="875.72" y="452.74" width="5.68" height="11" fill="none" stroke="#333" stroke-width="1.2"/>
<rect x="887.21" y="407.02" width="5.68" height="10.75" fill="none" stroke="#333" stroke-width="1.2"/>
<rect x="887.21" y="452.74" width="5.68" height="11" fill="none" stroke="#333" stroke-width="1.2"/>
<rect x="850.64" y="417.77" width="44.73" height="34.96" fill="none" stroke="#333" stroke-width="1.44"/>
<rect x="905.77" y="407.02" width="5.68" height="10.75" fill="none" stroke="#333" stroke-width="1.2"/>
<rect x="905.77" y="452.74" width="5.68" height="11" fill="none" stroke="#333" stroke-width="1.2"/>
<rect x="917.26" y="407.02" width="5.68" height="10.75" fill="none" stroke="#333" stroke-width="1.2"/>
<rect x="917.26" y="452.74" width="5.68" height="11" fill="none" stroke="#333" stroke-width="1.2"/>
<rect x="928.75" y="407.02" width="5.68" height="10.75" fill="none" stroke="#333" stroke-width="1.2"/>
<rect x="928.75" y="452.74" width="5.68" height="11" fill="none" stroke="#333" stroke-width="1.2"/>
<rect x="940.24" y="407.02" width="5.68" height="10.75" fill="none" stroke="#333" stroke-width="1.2"/>
<rect x="940.24" y="452.74" width="5.68" height="11" fill="none" stroke="#333" stroke-width="1.2"/>
<rect x="903.67" y="417.77" width="44.73" height="34.96" fill="none" stroke="#333" stroke-width="1.44"/>
<rect x="958.8" y="407.02" width="5.68" height="10.75" fill="none" stroke="#333" stroke-width="1.2"/>
<rect x="958.8" y="452.74" width="5.68" height="11" fill="none" stroke="#333" stroke-width="1.2"/>
<rect x="970.29" y="407.02" width="5.68" height="10.75" fill="none" stroke="#333" stroke-width="1.2"/>
<rect x="970.29" y="452.74" width="5.68" height="11" fill="none" stroke="#333" stroke-width="1.2"/>
<rect x="981.78" y="407.02" width="5.68" height="10.75" fill="none" stroke="#333" stroke-width="1.2"/>
<rect x="981.78" y="452.74" width="5.68" height="11" fill="none" stroke="#333" stroke-width="1.2"/>
<rect x="993.27" y="407.02" width="5.68" height="10.75" fill="none" stroke="#333" stroke-width="1.2"/>
<rect x="993.27" y="452.74" width="5.68" height="11" fill="none" stroke="#333" stroke-width="1.2"/>
<rect x="956.7" y="417.77" width="44.73" height="34.96" fill="none" stroke="#333" stroke-width="1.44"/>
<path d="M1014.17,118.91 L1067.42,118.91 L1067.42,176.73 L1014.17,176.73 L1014.17,160.17 L1022.2,160.17 L1022.2,134.47 L1014.17,134.47 Z" fill="none" stroke="#333" stroke-width="1.2"/>
<path d="M1018,123.6 L1063.47,123.6 L1063.47,172.03 L1018,172.03 L1018,164.62 L1026.41,164.62 L1026.41,130.77 L1018,130.77 Z" fill="none" stroke="#333" stroke-width="1.2"/>
<rect x="1015.29" y="144.48" width="6.92" height="6.92" fill="none" stroke="#333" stroke-width="1.2"/>
<line x1="1038.76" y1="118.91" x2="1038.76" y2="123.6" stroke="#333" stroke-width="1.2"/>
<line x1="1038.76" y1="172.03" x2="1038.76" y2="176.73" stroke="#333" stroke-width="1.2"/>
<rect x="1034.93" y="133.73" width="7.29" height="7.41" fill="none" stroke="#333" stroke-width="1.2"/>
<rect x="1034.93" y="155.23" width="7.29" height="7.41" fill="none" stroke="#333" stroke-width="1.2"/>
<path d="M1014.05,187.48 L1067.42,187.48 L1067.42,288.05 L1014.05,288.05 L1014.05,263.09 L1022.58,263.09 L1022.58,210.46 L1014.05,210.46 Z" fill="none" stroke="#333" stroke-width="1.2"/>
<path d="M1017.88,191.68 L1063.72,191.68 L1063.72,283.84 L1017.88,283.84 L1017.88,275.57 L1022.33,275.57 L1022.33,268.4 L1026.16,268.4 L1026.16,205.88 L1022.33,205.88 L1022.33,198.72 L1017.88,198.72 Z" fill="none" stroke="#333" stroke-width="1.2"/>
<rect x="1022.7" y="199.21" width="2.72" height="3.21" fill="#333" stroke="#333" stroke-width="1.2"/>
<rect x="1022.7" y="271.86" width="2.72" height="3.21" fill="#333" stroke="#333" stroke-width="1.2"/>
<rect x="1015.29" y="230.72" width="7.29" height="13.34" fill="none" stroke="#333" stroke-width="1.2"/>
<line x1="1038.64" y1="187.48" x2="1038.64" y2="191.68" stroke="#333" stroke-width="1.2"/>
<line x1="1038.64" y1="283.84" x2="1038.64" y2="288.05" stroke="#333" stroke-width="1.2"/>
<rect x="1034.81" y="201.81" width="7.29" height="7.41" fill="none" stroke="#333" stroke-width="1.2"/>
<rect x="1034.81" y="223.3" width="7.29" height="7.41" fill="none" stroke="#333" stroke-width="1.2"/>
<rect x="1034.81" y="244.8" width="7.29" height="7.41" fill="none" stroke="#333" stroke-width="1.2"/>
<rect x="1034.81" y="266.3" width="7.29" height="7.41" fill="none" stroke="#333" stroke-width="1.2"/>
<path d="M1014.17,298.55 L1067.67,298.55 L1067.67,420.49 L1014.17,420.49 L1014.17,385.28 L1022.58,385.28 L1022.58,333.39 L1014.17,333.39 Z" fill="none" stroke="#333" stroke-width="1.2"/>
<path d="M1017.88,302.62 L1063.59,302.62 L1063.59,416.29 L1017.88,416.29 L1017.88,408.26 L1026.41,408.26 L1026.41,396.4 L1022.7,396.4 L1022.7,391.21 L1026.41,391.21 L1026.41,328.82 L1022.7,328.82 L1022.7,322.02 L1026.41,322.02 L1026.41,310.28 L1017.88,310.28 Z" fill="none" stroke="#333" stroke-width="1.2"/>
<rect x="1015.29" y="353.03" width="7.29" height="13.96" fill="none" stroke="#333" stroke-width="1.2"/>
<line x1="1038.64" y1="298.55" x2="1038.64" y2="302.62" stroke="#333" stroke-width="1.2"/>
<line x1="1038.64" y1="416.29" x2="1038.64" y2="420.49" stroke="#333" stroke-width="1.2"/>
<rect x="1034.81" y="313.25" width="7.29" height="7.41" fill="none" stroke="#333" stroke-width="1.2"/>
<rect x="1034.81" y="334.62" width="7.29" height="7.41" fill="none" stroke="#333" stroke-width="1.2"/>
<rect x="1034.81" y="356" width="7.29" height="7.41" fill="none" stroke="#333" stroke-width="1.2"/>
<rect x="1034.81" y="377.37" width="7.29" height="7.41" fill="none" stroke="#333" stroke-width="1.2"/>
<rect x="1034.81" y="398.75" width="7.29" height="7.41" fill="none" stroke="#333" stroke-width="1.2"/>
<text transform="translate(1013.56,112.48) rotate(-90) scale(0.92,1)" font-size="11.86" text-anchor="start" font-weight="normal" fill="#222" stroke="#222" stroke-width="0.27">POWER</text>
<text transform="translate(1012.32,287.18) rotate(-90) scale(0.92,1)" font-size="12.11" text-anchor="start" font-weight="normal" fill="#222" stroke="#222" stroke-width="0.27">SIG</text>
<text transform="translate(1012.44,419.63) rotate(-90) scale(0.95,1)" font-size="12.11" text-anchor="start" font-weight="normal" fill="#222" stroke="#222" stroke-width="0.27">MOTOR</text>
<text transform="translate(1027.64,117.67) rotate(-90) scale(0.88,1)" font-size="16.68" text-anchor="start" font-weight="normal" fill="#222" stroke="#222" stroke-width="0.31">2</text>
<text transform="translate(1026.41,182.41) rotate(-90) scale(0.5,1)" font-size="15.57" text-anchor="start" font-weight="normal" fill="#222" stroke="#222" stroke-width="0.31" style="font-family:'Noto Sans CJK SC','Liberation Sans',sans-serif">1</text>
<text transform="translate(1060.51,187.6) rotate(-90) scale(0.95,1)" font-size="15.81" text-anchor="start" font-weight="normal" fill="#222" stroke="#222" stroke-width="0.31">4</text>
<text transform="translate(1026.03,297.81) rotate(-90) scale(0.88,1)" font-size="15.81" text-anchor="start" font-weight="normal" fill="#222" stroke="#222" stroke-width="0.31">5</text>
<text transform="translate(1059.52,294.59) rotate(-90) scale(0.5,1)" font-size="15.57" text-anchor="start" font-weight="normal" fill="#222" stroke="#222" stroke-width="0.31" style="font-family:'Noto Sans CJK SC','Liberation Sans',sans-serif">1</text>
<text transform="translate(1025.66,427.53) rotate(-90) scale(0.5,1)" font-size="15.57" text-anchor="start" font-weight="normal" fill="#222" stroke="#222" stroke-width="0.31" style="font-family:'Noto Sans CJK SC','Liberation Sans',sans-serif">1</text>
<path d="M922,68.8 V33.8 H1141.2" fill="none" stroke="#666" stroke-width="1" />
<text transform="translate(1150.2,44.2)" font-size="16.8" text-anchor="start" fill="#222" font-weight="500" >细分角设定</text>
<line x1="1084.2" y1="136.4" x2="1141" y2="136.4" stroke="#6e6e6e" stroke-width="1" />
<line x1="1084.2" y1="158.4" x2="1141" y2="158.4" stroke="#6e6e6e" stroke-width="1" />
<line x1="1084.2" y1="205.6" x2="1141" y2="205.6" stroke="#6e6e6e" stroke-width="1" />
<line x1="1084.2" y1="226.3" x2="1141" y2="226.3" stroke="#6e6e6e" stroke-width="1" />
<line x1="1084.2" y1="248" x2="1141" y2="248" stroke="#6e6e6e" stroke-width="1" />
<line x1="1084.2" y1="269.6" x2="1141" y2="269.6" stroke="#6e6e6e" stroke-width="1" />
<line x1="1084.2" y1="317" x2="1141" y2="317" stroke="#6e6e6e" stroke-width="1" />
<line x1="1084.2" y1="338.6" x2="1141" y2="338.6" stroke="#333" stroke-width="1" />
<line x1="1084.2" y1="359.5" x2="1141" y2="359.5" stroke="#6e6e6e" stroke-width="1" />
<line x1="1084.2" y1="380.7" x2="1141" y2="380.7" stroke="#6e6e6e" stroke-width="1" />
<line x1="1084.2" y1="402.4" x2="1141" y2="402.4" stroke="#6e6e6e" stroke-width="1" />
<text transform="translate(1097.4,179.3)" font-size="18.4" text-anchor="middle" fill="#555" font-weight="400" style="font-family:'Noto Sans CJK SC',sans-serif">①</text>
<text transform="translate(1097.4,290.3)" font-size="18.4" text-anchor="middle" fill="#555" font-weight="400" style="font-family:'Noto Sans CJK SC',sans-serif">①</text>
<text transform="translate(1097.4,423.3)" font-size="18.4" text-anchor="middle" fill="#555" font-weight="400" style="font-family:'Noto Sans CJK SC',sans-serif">①</text>
<text transform="translate(1150.5,141.7) scale(0.93,1)" font-size="16" text-anchor="start" fill="#222" font-weight="normal" stroke="#222" stroke-width="0.35">0V</text>
<text transform="translate(1150.5,163.6) scale(0.93,1)" font-size="16" text-anchor="start" fill="#222" font-weight="normal" stroke="#222" stroke-width="0.35">DC5V</text>
<text transform="translate(1150.5,211.2) scale(0.93,1)" font-size="16" text-anchor="start" fill="#222" font-weight="normal" stroke="#222" stroke-width="0.35">0V</text>
<text transform="translate(1151.3,232.3) scale(0.89,1)" font-size="16" text-anchor="start" fill="#222" font-weight="normal" stroke="#222" stroke-width="0.35">H.O</text>
<text transform="translate(1151.3,253.5) scale(0.89,1)" font-size="16" text-anchor="start" fill="#222" font-weight="normal" stroke="#222" stroke-width="0.35">CCW</text>
<text transform="translate(1151.3,274.6) scale(0.87,1)" font-size="16" text-anchor="start" fill="#222" font-weight="normal" stroke="#222" stroke-width="0.35">CW</text>
<text transform="translate(1151.2,322)" font-size="17" text-anchor="start" fill="#222" font-weight="500" >黒</text>
<text transform="translate(1151.2,344.4)" font-size="17" text-anchor="start" fill="#222" font-weight="500" >緑</text>
<text transform="translate(1151.2,365.6)" font-size="17" text-anchor="start" fill="#222" font-weight="500" >橙</text>
<text transform="translate(1151.2,388.6)" font-size="17" text-anchor="start" fill="#222" font-weight="500" >红</text>
<text transform="translate(1151.2,410)" font-size="17" text-anchor="start" fill="#222" font-weight="500" >蓝</text>
<path d="M1203,130 C1206.3,130.3 1206.3,132.5 1206.3,136 V141.2 C1206.3,144.7 1207.1,146.4 1208.6,147.2 C1207.1,148 1206.3,149.7 1206.3,153.2 V158.6 C1206.3,162.1 1206.3,164.3 1203,164.6" fill="none" stroke="#1a1a1a" stroke-width="2" stroke-linecap="round" stroke-linejoin="round"/>
<path d="M1203,204.5 C1206.3,204.8 1206.3,207 1206.3,210.5 V233.4 C1206.3,236.9 1207.1,238.6 1208.6,239.4 C1207.1,240.2 1206.3,241.9 1206.3,245.4 V268.8 C1206.3,272.3 1206.3,274.5 1203,274.8" fill="none" stroke="#1a1a1a" stroke-width="2" stroke-linecap="round" stroke-linejoin="round"/>
<path d="M1203,313.2 C1206.3,313.5 1206.3,315.7 1206.3,319.2 V355 C1206.3,358.5 1207.1,360.2 1208.6,361 C1207.1,361.8 1206.3,363.5 1206.3,367 V402.3 C1206.3,405.8 1206.3,408 1203,408.3" fill="none" stroke="#1a1a1a" stroke-width="2" stroke-linecap="round" stroke-linejoin="round"/>
<text transform="translate(1219.6,156.8)" font-size="16.6" text-anchor="start" fill="#222" font-weight="500" >电源输入端子</text>
<text transform="translate(1219.6,250.6)" font-size="16.6" text-anchor="start" fill="#222" font-weight="500" >信号输入端子</text>
<text transform="translate(1219.6,370)" font-size="16.6" text-anchor="start" fill="#222" font-weight="500" >电机输入端子</text>
<text transform="translate(60.2,631.6)" font-size="24" text-anchor="start" fill="#111" font-weight="500" >信号输入回路</text>
<line x1="138" y1="664.5" x2="541" y2="664.5" stroke="#1c1c1c" stroke-width="1.35" stroke-dasharray="2.7 2.364"/>
<line x1="138" y1="850.6" x2="541" y2="850.6" stroke="#1c1c1c" stroke-width="1.35" stroke-dasharray="2.7 2.364"/>
<line x1="136.3" y1="665.15" x2="136.3" y2="850.5" stroke="#1c1c1c" stroke-width="1.35" stroke-dasharray="2.7 2.35"/>
<line x1="145" y1="767.4" x2="322" y2="767.4" stroke="#231815" stroke-width="1.4" />
<path d="M322,767.4 l2.9,-5.5 l5.85,11 l5.85,-11 l5.85,11 l5.85,-11 l5.85,11 l2.9,-5.5" fill="none" stroke="#231815" stroke-width="1.3" />
<line x1="357" y1="767.4" x2="523.4" y2="767.4" stroke="#231815" stroke-width="1.4" />
<circle cx="136.3" cy="767.4" r="8.3" fill="#fff" stroke="#231815" stroke-width="1.1"/>
<circle cx="241.6" cy="767.4" r="5.9" fill="#231815"/>
<circle cx="436.1" cy="767.4" r="5.9" fill="#231815"/>
<line x1="241.6" y1="688.5" x2="241.6" y2="711" stroke="#231815" stroke-width="1.3" />
<path d="M236.8,695.3 L241.6,688.3 L246.4,695.3" fill="none" stroke="#231815" stroke-width="1.3" />
<path d="M241.6,711 l5.6,2.85 l-11.2,5.7 l11.2,5.7 l-11.2,5.7 l11.2,5.7 l-11.2,5.7 l5.6,2.85" fill="none" stroke="#231815" stroke-width="1.3" />
<line x1="241.6" y1="745" x2="241.6" y2="767.4" stroke="#231815" stroke-width="1.3" />
<line x1="436.1" y1="767.4" x2="436.1" y2="796.5" stroke="#231815" stroke-width="1.3" />
<line x1="426" y1="796.5" x2="446.5" y2="796.5" stroke="#231815" stroke-width="1.3" />
<line x1="426" y1="802.4" x2="446.5" y2="802.4" stroke="#231815" stroke-width="1.3" />
<line x1="436.1" y1="802.4" x2="436.1" y2="831.6" stroke="#231815" stroke-width="1.3" />
<line x1="426.5" y1="831.4" x2="446.4" y2="831.4" stroke="#231815" stroke-width="1.3" />
<line x1="432.5" y1="831.4" x2="426.1" y2="840.4" stroke="#231815" stroke-width="1.1" />
<line x1="439.1" y1="831.4" x2="432.7" y2="840.4" stroke="#231815" stroke-width="1.1" />
<line x1="445.9" y1="831.4" x2="439.5" y2="840.4" stroke="#231815" stroke-width="1.1" />
<text transform="translate(253,694.4) scale(0.95,1)" font-size="16" text-anchor="start" fill="#222" font-weight="normal" stroke="#222" stroke-width="0.38">+5V</text>
<text transform="translate(253.2,734.2) scale(0.95,1)" font-size="16" text-anchor="start" fill="#222" font-weight="normal" stroke="#222" stroke-width="0.38">5.<tspan style="font-family:'Noto Sans CJK SC','Liberation Sans',sans-serif;font-size:1.07em">1</tspan></text>
<text transform="translate(276.8,734.2) scale(0.95,1)" font-size="16" text-anchor="start" fill="#222" font-weight="normal" stroke="#222" stroke-width="0.38">k</text>
<text transform="translate(288.4,734.2) scale(0.74,1)" font-size="19" text-anchor="start" fill="#222" font-weight="normal" stroke="#222" stroke-width="0.2">Ω</text>
<text transform="translate(318.2,754.2) scale(0.95,1)" font-size="16" text-anchor="start" fill="#222" font-weight="normal" stroke="#222" stroke-width="0.38"><tspan style="font-family:'Noto Sans CJK SC','Liberation Sans',sans-serif;font-size:1.07em">1</tspan>0</text>
<text transform="translate(337.6,754.2) scale(0.95,1)" font-size="16" text-anchor="start" fill="#222" font-weight="normal" stroke="#222" stroke-width="0.38">k</text>
<text transform="translate(349.4,754.2) scale(0.74,1)" font-size="19" text-anchor="start" fill="#222" font-weight="normal" stroke="#222" stroke-width="0.2">Ω</text>
<text transform="translate(457.2,805) scale(0.95,1)" font-size="16" text-anchor="start" fill="#222" font-weight="normal" stroke="#222" stroke-width="0.38"><tspan style="font-family:'Noto Sans CJK SC','Liberation Sans',sans-serif;font-size:1.07em">1</tspan>00</text>
<text transform="translate(485.2,805) scale(0.95,1)" font-size="16" text-anchor="start" fill="#222" font-weight="normal" stroke="#222" stroke-width="0.38">pF</text>
<text transform="translate(93,793.8) scale(0.93,1)" font-size="15.2" text-anchor="start" fill="#222" font-weight="normal" stroke="#222" stroke-width="0.38">CW</text>
<text transform="translate(93,814.8) scale(0.93,1)" font-size="15.2" text-anchor="start" fill="#222" font-weight="normal" stroke="#222" stroke-width="0.38">CCW</text>
<text transform="translate(93,836.2) scale(0.93,1)" font-size="15.2" text-anchor="start" fill="#222" font-weight="normal" stroke="#222" stroke-width="0.38">H.O</text>
</svg>
</body>
</html>
